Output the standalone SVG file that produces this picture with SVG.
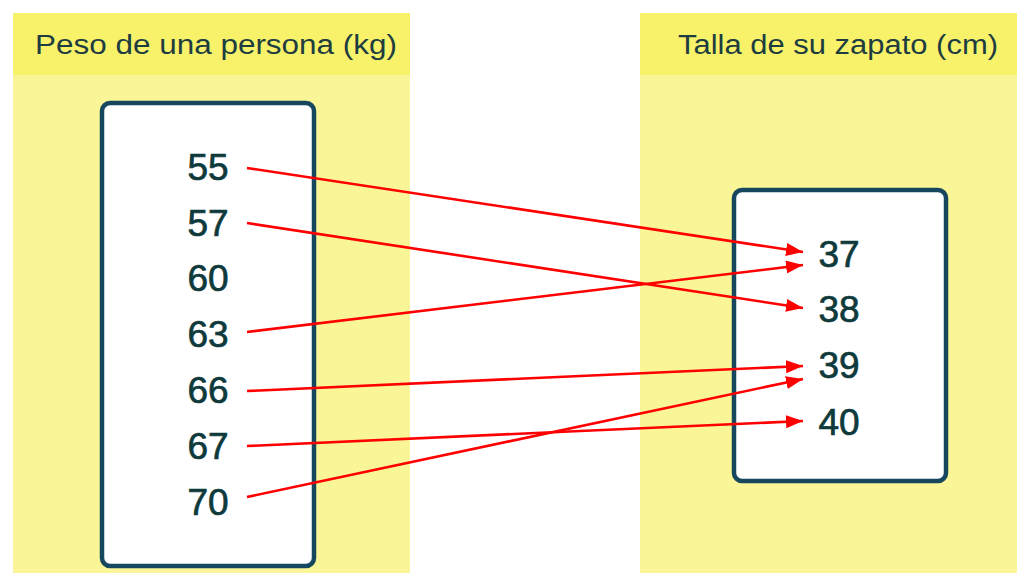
<svg xmlns="http://www.w3.org/2000/svg" width="1017" height="573" viewBox="0 0 1017 573">
<style>
.hdr{fill:#f7f26a}
.bg{fill:#faf697}
.box{fill:#ffffff;stroke:#17475f;stroke-width:4.5}
.ht{font-family:"Liberation Sans",Arial,sans-serif;font-size:27px;fill:#1e3d40}
.num{font-family:"Liberation Sans",Arial,sans-serif;font-size:37px;fill:#0f3a3c;stroke:#0f3a3c;stroke-width:0.7;text-anchor:middle}
.arr{stroke:#ff0000;stroke-width:2.6;fill:none;marker-end:url(#ah)}
</style>
<defs>
<marker id="ah" markerUnits="userSpaceOnUse" markerWidth="18" markerHeight="14" refX="17" refY="6.5" orient="auto">
<path d="M0,0 L17,6.5 L0,13 z" fill="#ff0000"/>
</marker>
</defs>
<rect width="1017" height="573" fill="#ffffff"/>
<g id="left-panel">
<rect class="bg" x="13" y="13" width="397" height="560"/>
<rect class="hdr" x="13" y="13" width="397" height="62"/>
<text class="ht" x="35" y="54" textLength="362" lengthAdjust="spacingAndGlyphs">Peso de una persona (kg)</text>
</g>
<g id="right-panel">
<rect class="bg" x="640" y="13" width="377" height="560"/>
<rect class="hdr" x="640" y="13" width="377" height="62"/>
<text class="ht" x="678" y="54" textLength="320" lengthAdjust="spacingAndGlyphs">Talla de su zapato (cm)</text>
</g>
<g id="left-box">
<rect class="box" x="102" y="103" width="212" height="463" rx="8"/>
<text class="num" x="208" y="180">55</text>
<text class="num" x="208" y="236">57</text>
<text class="num" x="208" y="291">60</text>
<text class="num" x="208" y="347">63</text>
<text class="num" x="208" y="403">66</text>
<text class="num" x="208" y="459">67</text>
<text class="num" x="208" y="515">70</text>
</g>
<g id="right-box">
<rect class="box" x="734" y="190" width="212" height="291" rx="8"/>
<text class="num" x="839" y="267">37</text>
<text class="num" x="839" y="322">38</text>
<text class="num" x="839" y="378">39</text>
<text class="num" x="839" y="435">40</text>
</g>
<g id="connectors">
<line class="arr" x1="247" y1="168" x2="803" y2="252"/>
<line class="arr" x1="247" y1="223" x2="803" y2="308"/>
<line class="arr" x1="247" y1="332" x2="803" y2="265"/>
<line class="arr" x1="247" y1="391" x2="803" y2="366"/>
<line class="arr" x1="247" y1="446" x2="803" y2="421"/>
<line class="arr" x1="247" y1="497" x2="803" y2="379"/>
</g>
</svg>
